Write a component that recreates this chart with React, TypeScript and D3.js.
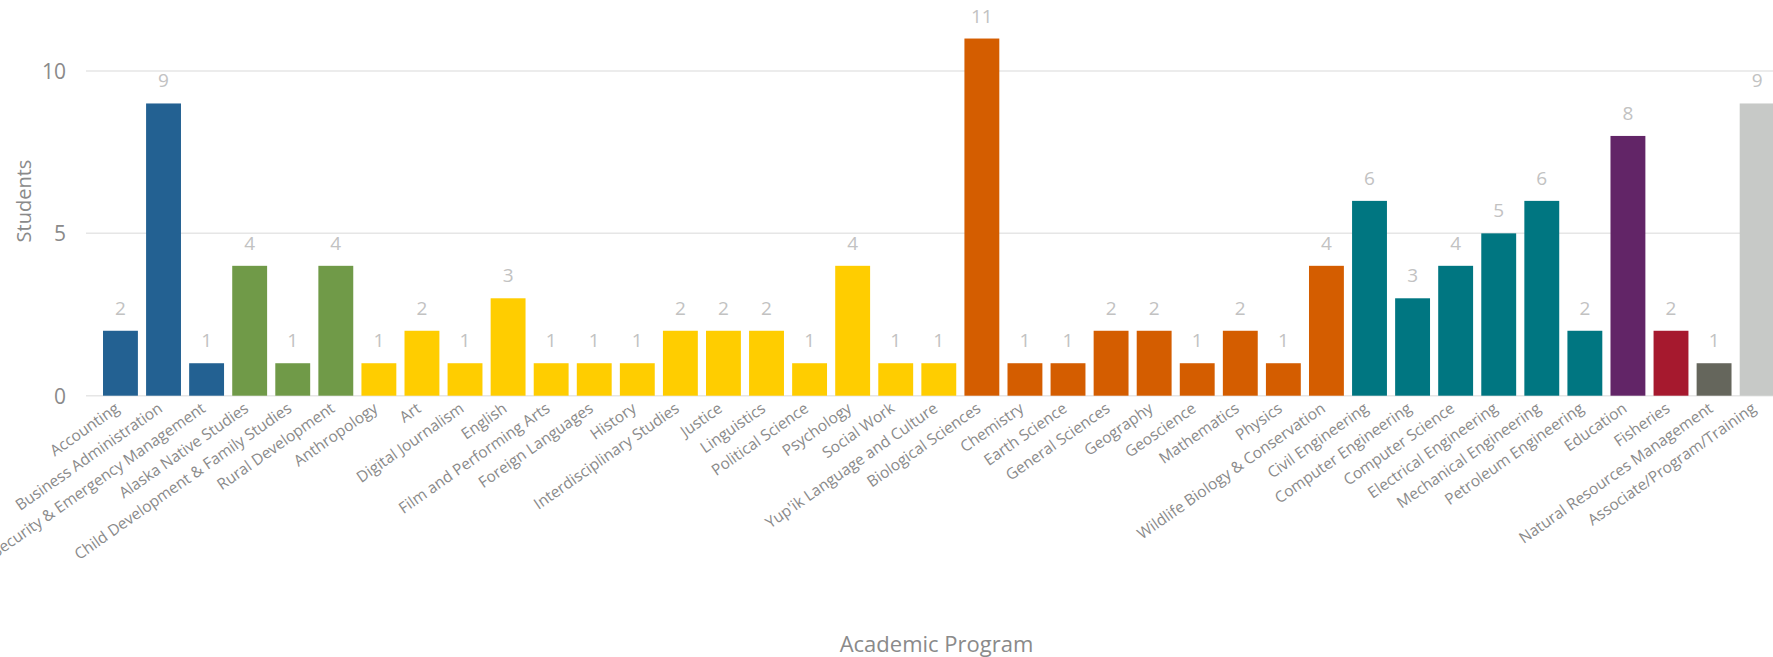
import React from "react";
import * as d3 from "d3";

const categories: string[] = [
  "Accounting",
  "Business Administration",
  "Homeland Security & Emergency Management",
  "Alaska Native Studies",
  "Child Development & Family Studies",
  "Rural Development",
  "Anthropology",
  "Art",
  "Digital Journalism",
  "English",
  "Film and Performing Arts",
  "Foreign Languages",
  "History",
  "Interdisciplinary Studies",
  "Justice",
  "Linguistics",
  "Political Science",
  "Psychology",
  "Social Work",
  "Yup'ik Language and Culture",
  "Biological Sciences",
  "Chemistry",
  "Earth Science",
  "General Sciences",
  "Geography",
  "Geoscience",
  "Mathematics",
  "Physics",
  "Wildlife Biology & Conservation",
  "Civil Engineering",
  "Computer Engineering",
  "Computer Science",
  "Electrical Engineering",
  "Mechanical Engineering",
  "Petroleum Engineering",
  "Education",
  "Fisheries",
  "Natural Resources Management",
  "Associate/Program/Training",
];

const students: number[] = [
  2, 9, 1, 4, 1, 4, 1, 2, 1, 3, 1, 1, 1, 2, 2, 2, 1, 4, 1, 1, 11, 1, 1, 2, 2, 1, 2, 1, 4, 6, 3, 4, 5, 6, 2, 8, 2, 1, 9,
];

const groups: string[] = [
  "blue", "blue", "blue",
  "green", "green", "green",
  "gold", "gold", "gold", "gold", "gold", "gold", "gold", "gold", "gold", "gold", "gold", "gold", "gold", "gold",
  "orange", "orange", "orange", "orange", "orange", "orange", "orange", "orange", "orange",
  "teal", "teal", "teal", "teal", "teal", "teal",
  "purple", "red", "darkgray", "lightgray",
];

const groupNames: string[] = ["blue", "green", "gold", "orange", "teal", "purple", "red", "darkgray", "lightgray"];
const groupColors: string[] = ["#236192", "#709A48", "#FFCD00", "#D45D00", "#007681", "#622567", "#A6192E", "#65665C", "#C7C9C7"];

const yTicks: number[] = [0, 5, 10];

const W = 1773;
const H = 657;
const FONT = "'Open Sans', 'DejaVu Sans', sans-serif";

export default function App() {
  const x = d3
    .scaleBand<string>()
    .domain(categories)
    .range([86, 1791.6])
    .paddingInner(0.19)
    .paddingOuter(0.395);
  const y = d3.scaleLinear().domain([0, 10]).range([395.7, 71]);
  const color = d3.scaleOrdinal<string, string>().domain(groupNames).range(groupColors);
  const rot = -35;

  return (
    <div style={{ position: "absolute", left: 0, top: 0, width: W, height: H, overflow: "hidden", background: "#fff" }}>
      <svg width={W} height={H} style={{ display: "block" }}>
        {yTicks.map((t) => (
          <g key={t}>
            <line x1={86} x2={W} y1={y(t)} y2={y(t)} stroke="#e6e6e6" strokeWidth={1.5} />
            <text
              x={66}
              y={y(t)}
              textAnchor="end"
              dominantBaseline="central"
              fill="#8a8a8a"
              fontSize={21}
              fontFamily={FONT}
            >
              {t}
            </text>
          </g>
        ))}
        {categories.map((c, i) => {
          const x0 = x(c)!;
          const bw = x.bandwidth();
          const v = students[i];
          return (
            <g key={c}>
              <rect x={x0} y={y(v)} width={bw} height={y(0) - y(v)} fill={color(groups[i])} />
              <text
                x={x0 + bw / 2}
                y={y(v) - 16}
                textAnchor="middle"
                fill="#c2c2c2"
                fontSize={19}
                fontFamily={FONT}
              >
                {v}
              </text>
              <text
                transform={`translate(${x0 + bw / 2},${y(0) + 15}) rotate(${rot})`}
                textAnchor="end"
                fill="#8a8a8a"
                fontSize={15.5}
                fontFamily={FONT}
              >
                {c}
              </text>
            </g>
          );
        })}
        <text
          transform={`translate(31,201) rotate(-90)`}
          textAnchor="middle"
          fill="#8a8a8a"
          fontSize={20}
          fontFamily={FONT}
        >
          Students
        </text>
        <text x={936.5} y={652} textAnchor="middle" fill="#8a8a8a" fontSize={22} fontFamily={FONT}>
          Academic Program
        </text>
      </svg>
    </div>
  );
}
